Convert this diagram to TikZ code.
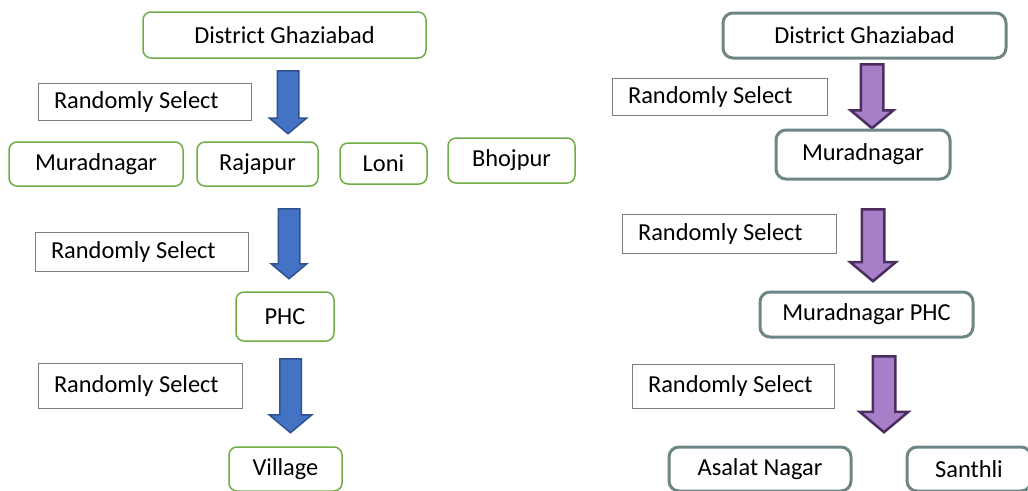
\documentclass[tikz,border=0pt]{standalone}
\usepackage{fontspec}
\setmainfont{Carlito}
\usetikzlibrary{shapes.arrows}
\definecolor{boxgreen}{HTML}{70AD47}
\definecolor{boxteal}{HTML}{6E8686}
\definecolor{selgray}{HTML}{7F7F7F}
\definecolor{arrblue}{HTML}{4472C4}
\definecolor{arrblueline}{HTML}{2F528F}
\definecolor{arrpurple}{HTML}{A77FC9}
\definecolor{arrpurpleline}{HTML}{4B2D5E}
\tikzstyle{greenbox}=[draw=boxgreen, line width=1.5pt, rounded corners=8pt, inner sep=0pt, font=\fontsize{24.4}{28}\selectfont]
\tikzstyle{tealbox}=[draw=boxteal, line width=3pt, rounded corners=10pt, inner sep=0pt, font=\fontsize{24.4}{28}\selectfont]
\tikzstyle{selbox}=[draw=selgray, line width=1pt, inner ysep=0pt, inner xsep=16pt, align=flush left, font=\fontsize{24.4}{28}\selectfont]
\tikzstyle{bluearrow}=[single arrow, draw=arrblueline, fill=arrblue, line width=1.5pt, inner sep=0pt, text height=10pt, text depth=10pt, rotate=-90, anchor=tail, single arrow tip angle=100]
\tikzstyle{purplearrow}=[single arrow, draw=arrpurpleline, fill=arrpurple, line width=2.5pt, inner sep=0pt, text height=10pt, text depth=10pt, rotate=-90, anchor=tail, single arrow tip angle=100]
\newcommand{\greenbox}{\node[greenbox]}
\newcommand{\tealbox}{\node[tealbox]}
\newcommand{\selbox}{\node[selbox]}
\newcommand{\bluearrow}{\node[bluearrow]}
\newcommand{\purplearrow}{\node[purplearrow]}
\begin{document}
\begin{tikzpicture}[x=1pt,y=-1pt]
\useasboundingbox (0,0) rectangle (1028,490);

% left side
\greenbox[minimum width=283, minimum height=46] (dgl) at (284.5,35) {District Ghaziabad};
\selbox[text width=181, minimum height=37] (sell1) at (144.5,101.5) {Randomly Select};
\bluearrow[minimum height=63, minimum width=36, single arrow head extend=8] (al1) at (288,70) {};
\greenbox[minimum width=174, minimum height=44] (murl) at (96,164) {Muradnagar};
\greenbox[minimum width=121, minimum height=44] (rajl) at (257.5,164) {Rajapur};
\greenbox[minimum width=87, minimum height=41] (lonil) at (383.5,163.5) {Loni};
\greenbox[minimum width=127, minimum height=45] (bhol) at (511.5,160.5) {Bhojpur};
\selbox[text width=181, minimum height=39] (sell2) at (141.5,251.5) {Randomly Select};
\bluearrow[minimum height=70, minimum width=34, single arrow head extend=7] (al2) at (289,208) {};
\greenbox[minimum width=98, minimum height=49] (phcl) at (285,316.5) {PHC};
\selbox[text width=172, minimum height=45] (sell3) at (140,385.5) {Randomly Select};
\bluearrow[minimum height=74, minimum width=41, single arrow head extend=10.5] (al3) at (290.5,358) {};
\greenbox[minimum width=113, minimum height=44] (vill) at (285.5,469) {Village};

% right side
\tealbox[minimum width=283, minimum height=45] (dgr) at (864.5,35.5) {District Ghaziabad};
\selbox[text width=183, minimum height=37] (selr1) at (719.5,96.5) {Randomly Select};
\purplearrow[minimum height=64, minimum width=40, single arrow head extend=10] (ar1) at (872,63) {};
\tealbox[minimum width=174, minimum height=49] (murr) at (863,154.5) {Muradnagar};
\selbox[text width=182, minimum height=39] (selr2) at (729,233.5) {Randomly Select};
\purplearrow[minimum height=72, minimum width=43, single arrow head extend=11.5] (ar2) at (873,208) {};
\tealbox[minimum width=213, minimum height=45] (phcr) at (866.5,314.5) {Muradnagar PHC};
\selbox[text width=170, minimum height=44] (selr3) at (733,386) {Randomly Select};
\purplearrow[minimum height=76, minimum width=46, single arrow head extend=13] (ar3) at (884,355) {};
\tealbox[minimum width=182, minimum height=44] (asar) at (760,469) {Asalat Nagar};
\tealbox[minimum width=124, minimum height=44] (sanr) at (969,469) {Santhli};
\end{tikzpicture}
\end{document}
